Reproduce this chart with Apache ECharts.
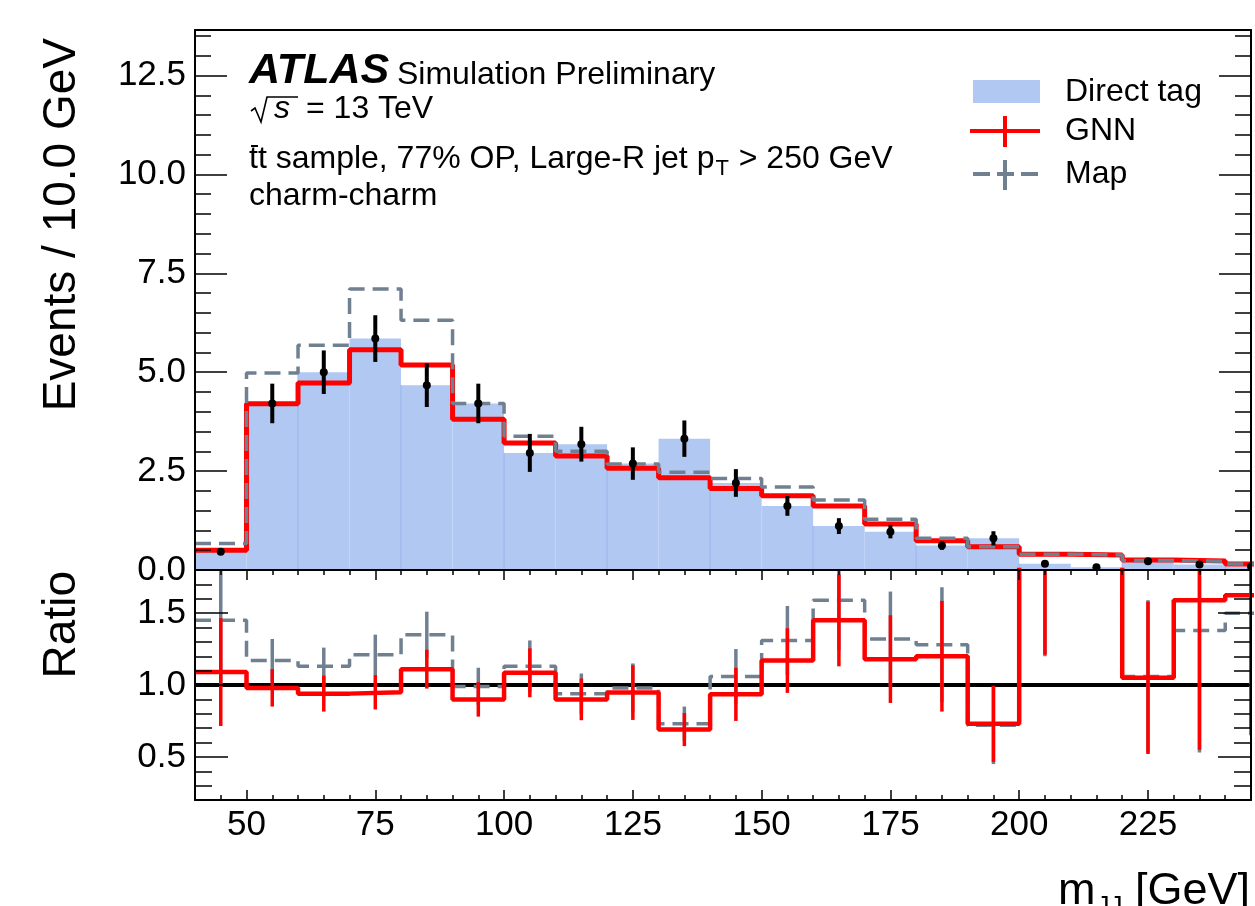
<!DOCTYPE html>
<html><head><meta charset="utf-8">
<script src="https://cdn.jsdelivr.net/npm/echarts@6/dist/echarts.min.js"></script>
<style>html,body{margin:0;padding:0;background:#fff}#c{width:1255px;height:906px}</style>
</head><body><div id="c"></div>
<script>
// ---------------- data ----------------
const binLow = [40,50,60,70,80,90,100,110,120,130,140,150,160,170,180,190,200,210,220,230,240];
const binWidth = 10;
const directTag = [0.46,4.21,5.00,5.85,4.67,4.21,2.96,3.18,2.69,3.32,2.20,1.62,1.11,0.97,0.62,0.80,0.16,0.07,0.22,0.14,0.09];
const directErr = [0.08,0.50,0.55,0.59,0.55,0.50,0.48,0.44,0.41,0.46,0.35,0.25,0.20,0.17,0.11,0.18,0.05,0.03,0.06,0.05,0.04];
const gnn       = [0.50,4.20,4.73,5.57,5.18,3.81,3.21,2.88,2.57,2.33,2.06,1.88,1.62,1.16,0.74,0.59,0.40,0.38,0.25,0.23,0.15];
const mapTag    = [0.67,4.98,5.68,7.10,6.31,4.21,3.38,3.00,2.68,2.47,2.31,2.10,1.77,1.28,0.80,0.59,0.40,0.38,0.24,0.22,0.15];
const gnnRatio    = [1.09,0.98,0.94,0.95,1.11,0.90,1.085,0.90,0.947,0.69,0.935,1.17,1.45,1.18,1.20,0.73,2.6,5.4,1.05,1.59,1.625];
const gnnRatioErr = [0.375,0.13,0.125,0.12,0.135,0.12,0.17,0.145,0.19,0.115,0.185,0.225,0.32,0.305,0.385,0.265,1.39,3.0,0.53,1.04,0.975];
const mapRatio    = [1.45,1.17,1.13,1.21,1.35,0.99,1.13,0.94,0.98,0.73,1.06,1.31,1.59,1.32,1.28,0.72,2.6,5.4,1.06,1.38,1.50];
const mapRatioErr = [0.45,0.15,0.13,0.14,0.16,0.13,0.18,0.14,0.17,0.12,0.19,0.24,0.35,0.33,0.40,0.27,1.4,3.0,0.53,0.85,0.80];

const xMajorTicks = [50,75,100,125,150,175,200,225];
const xMinorTicks = [40,45,50,55,60,65,70,75,80,85,90,95,100,105,110,115,120,125,130,135,140,145,150,155,160,165,170,175,180,185,190,195,200,205,210,215,220,225,230,235,240,245];
const yMajorTicks = [0,2.5,5,7.5,10,12.5];
const yMinorTicks = [0,0.5,1,1.5,2,2.5,3,3.5,4,4.5,5,5.5,6,6.5,7,7.5,8,8.5,9,9.5,10,10.5,11,11.5,12,12.5,13,13.5];
const rMajorTicks = [0.5,1.0,1.5];
const rMinorTicks = [0.2,0.3,0.4,0.5,0.6,0.7,0.8,0.9,1.0,1.1,1.2,1.3,1.4,1.5,1.6,1.7,1.8];

// ---------------- styling ----------------
const FF = "'Liberation Sans', Arial, Helvetica, sans-serif";
const BLUE = '#b0c8f2', RED = '#ff0000', GRAY = '#708090';
const X_MIN = 40, X_MAX = 245, Y_MAX = 13.65, R_MIN = 0.2, R_MAX = 1.8;

function stepData(vals){
  const d = binLow.map((x,i)=>[x, vals[i]]);
  d.push([binLow[binLow.length-1]+binWidth, vals[vals.length-1]]);
  return d;
}
function errData(vals, errs){ return binLow.map((x,i)=>[x+binWidth/2, vals[i], errs[i]]); }
function errRender(color, width, dot){
  return function(params, api){
    const c = api.value(0), v = api.value(1), e = api.value(2);
    const a = api.coord([c, v-e]), b = api.coord([c, v+e]);
    const ch = [{type:'line', shape:{x1:a[0],y1:a[1],x2:b[0],y2:b[1]}, style:{stroke:color, lineWidth:width}}];
    if (dot){ const p = api.coord([c, v]); ch.push({type:'circle', shape:{cx:p[0],cy:p[1],r:dot}, style:{fill:color}}); }
    return {type:'group', children:ch};
  };
}
function axis(o){
  const base = {type:'value', splitLine:{show:false}, axisLine:{show:false, onZero:false, lineStyle:{color:'#000', width:2}},
    axisTick:{show:false}, axisLabel:{show:false}, z:10, silent:true};
  return Object.assign(base, o);
}
function ticks(vals, len){ return {show:true, inside:true, length:len, customValues:vals, lineStyle:{color:'#000', width:1.5}}; }
const lineOn = {show:true, onZero:false, lineStyle:{color:'#000', width:2}};

const xAxes = [
  axis({gridIndex:0, position:'bottom', min:X_MIN, max:X_MAX, axisLine:lineOn}),
  axis({gridIndex:0, position:'top', min:X_MIN, max:X_MAX, axisLine:lineOn}),
  axis({gridIndex:1, position:'bottom', min:X_MIN, max:X_MAX, axisLine:lineOn, axisTick:ticks(xMajorTicks,10),
        axisLabel:{show:true, customValues:xMajorTicks, margin:8, fontSize:35, fontFamily:FF, color:'#000'}}),
  axis({gridIndex:1, position:'bottom', min:X_MIN, max:X_MAX, axisTick:ticks(xMinorTicks,5)}),
  axis({gridIndex:1, position:'top', min:X_MIN, max:X_MAX, axisLine:lineOn, axisTick:ticks(xMajorTicks,10)}),
  axis({gridIndex:1, position:'top', min:X_MIN, max:X_MAX, axisTick:ticks(xMinorTicks,5)})
];
const yAxes = [
  axis({gridIndex:0, position:'left', min:0, max:Y_MAX, axisLine:lineOn, axisTick:ticks(yMajorTicks,32),
        axisLabel:{show:true, customValues:yMajorTicks, margin:9, fontSize:35, fontFamily:FF, color:'#000', formatter:v=>v.toFixed(1)}}),
  axis({gridIndex:0, position:'left', min:0, max:Y_MAX, axisTick:ticks(yMinorTicks,16)}),
  axis({gridIndex:0, position:'right', min:0, max:Y_MAX, axisLine:lineOn, axisTick:ticks(yMajorTicks,32)}),
  axis({gridIndex:0, position:'right', min:0, max:Y_MAX, axisTick:ticks(yMinorTicks,16)}),
  axis({gridIndex:1, position:'left', min:R_MIN, max:R_MAX, axisLine:lineOn, axisTick:ticks(rMajorTicks,33),
        axisLabel:{show:true, customValues:rMajorTicks, margin:9, fontSize:35, fontFamily:FF, color:'#000', formatter:v=>v.toFixed(1)}}),
  axis({gridIndex:1, position:'left', min:R_MIN, max:R_MAX, axisTick:ticks(rMinorTicks,17)}),
  axis({gridIndex:1, position:'right', min:R_MIN, max:R_MAX, axisLine:lineOn, axisTick:ticks(rMajorTicks,33)}),
  axis({gridIndex:1, position:'right', min:R_MIN, max:R_MAX, axisTick:ticks(rMinorTicks,17)})
];

const series = [
  { type:'custom', name:'Direct tag', xAxisIndex:0, yAxisIndex:0, clip:true, z:1, silent:true,
    data: binLow.map((x,i)=>[x, x+binWidth, directTag[i]]), encode:{x:[0,1], y:2},
    renderItem: function(params, api){
      const lo = api.value(0), hi = api.value(1), v = api.value(2);
      const p0 = api.coord([lo,0]), p1 = api.coord([hi,v]);
      const ch = [{type:'rect', shape:{x:p0[0], y:p1[1], width:p1[0]-p0[0], height:p0[1]-p1[1]}, style:{fill:BLUE}}];
      if (lo % 20 === 0 && lo > X_MIN) ch.push({type:'line', shape:{x1:p0[0],y1:p0[1],x2:p0[0],y2:p1[1]}, style:{stroke:'#97b4ec', lineWidth:1}});
      return {type:'group', children:ch};
    } },
  { type:'line', name:'GNN', xAxisIndex:0, yAxisIndex:0, step:'end', data:stepData(gnn), showSymbol:false, z:3, silent:true,
    lineStyle:{color:RED, width:5, cap:'butt'} },
  { type:'line', name:'Map', xAxisIndex:0, yAxisIndex:0, step:'end', data:stepData(mapTag), showSymbol:false, z:4, silent:true,
    lineStyle:{color:GRAY, width:3.5, type:[16,8], cap:'butt'} },
  { type:'custom', name:'DirectPts', xAxisIndex:0, yAxisIndex:0, clip:true, z:5, silent:true,
    data: errData(directTag, directErr), encode:{x:0, y:1}, renderItem: errRender('#000', 4, 4) },
  // ratio panel
  { type:'line', name:'one', xAxisIndex:2, yAxisIndex:4, data:[[X_MIN,1],[X_MAX,1]], showSymbol:false, z:1, silent:true,
    lineStyle:{color:'#000', width:4} },
  { type:'line', name:'MapR', xAxisIndex:2, yAxisIndex:4, step:'end', data:stepData(mapRatio), showSymbol:false, z:2, silent:true,
    lineStyle:{color:GRAY, width:3.5, type:[16,8], cap:'butt'} },
  { type:'custom', name:'MapRErr', xAxisIndex:2, yAxisIndex:4, clip:true, z:2, silent:true,
    data: errData(mapRatio, mapRatioErr), encode:{x:0, y:1}, renderItem: errRender(GRAY, 3.5, 0) },
  { type:'line', name:'GNNR', xAxisIndex:2, yAxisIndex:4, step:'end', data:stepData(gnnRatio), showSymbol:false, z:3, silent:true,
    lineStyle:{color:RED, width:4.5, cap:'butt'} },
  { type:'custom', name:'GNNRErr', xAxisIndex:2, yAxisIndex:4, clip:true, z:3, silent:true,
    data: errData(gnnRatio, gnnRatioErr), encode:{x:0, y:1}, renderItem: errRender(RED, 3.5, 0) }
];

// ---------------- text layout helpers ----------------
const mctx = document.createElement('canvas').getContext('2d');
function tw(t, font){ mctx.font = font; return mctx.measureText(t).width; }
function txt(t, x, y, size, opts){
  opts = opts || {};
  const font = (opts.style || '') + ' ' + size + 'px ' + FF;
  return {type:'text', x:x, y:y, rotation:opts.rot || 0, z:100, silent:true,
    style:{text:t, font:font, fill:opts.fill || '#000', align:opts.align || 'left', verticalAlign:'middle',
           textAlign:opts.align || 'left', textVerticalAlign:'middle'}};
}
const g = [];
// ATLAS label
g.push(txt('ATLAS', 249, 71, 43, {style:'italic bold'}));
g.push(txt('Simulation Preliminary', 397, 75.5, 32));
// sqrt(s) = 13 TeV
g.push({type:'polyline', z:100, silent:true, shape:{points:[[251,111],[255,108],[261,122],[267,97],[298,97]]}, style:{stroke:'#000', lineWidth:1.6, fill:null}});
g.push(txt('s', 274, 109.5, 32, {style:'italic'}));
g.push(txt('= 13 TeV', 306, 109.5, 32));
// line 3
const f32 = '32px ' + FF, f22 = '22px ' + FF;
const l3a = 'tt sample, 77% OP, Large-R jet p';
const l3x = 249, w3a = tw(l3a, f32);
g.push(txt(l3a, l3x, 159.5, 32));
g.push({type:'line', z:100, silent:true, shape:{x1:l3x+2, y1:146, x2:l3x+9, y2:146}, style:{stroke:'#000', lineWidth:2}});
g.push(txt('T', l3x + w3a + 1, 169, 22));
g.push(txt(' > 250 GeV', l3x + w3a + 2 + tw('T', f22), 159.5, 32));
// line 4
g.push(txt('charm-charm', 249, 196.5, 32));
// legend
g.push({type:'rect', z:100, silent:true, shape:{x:973, y:80, width:67, height:23}, style:{fill:BLUE}});
g.push(txt('Direct tag', 1065, 92, 32));
g.push({type:'line', z:100, silent:true, shape:{x1:970, y1:131, x2:1040, y2:131}, style:{stroke:RED, lineWidth:4}});
g.push({type:'line', z:100, silent:true, shape:{x1:1005, y1:116, x2:1005, y2:147}, style:{stroke:RED, lineWidth:4}});
g.push(txt('GNN', 1065, 131, 32));
g.push({type:'line', z:100, silent:true, shape:{x1:973, y1:174, x2:1039, y2:174}, style:{stroke:GRAY, lineWidth:4, lineDash:[17,7]}});
g.push({type:'line', z:100, silent:true, shape:{x1:1005, y1:160, x2:1005, y2:190}, style:{stroke:GRAY, lineWidth:4}});
g.push(txt('Map', 1065, 174, 32));
// axis titles
g.push(txt('Events / 10.0 GeV', 62, 38, 46, {align:'right', rot:Math.PI/2}));
g.push(txt('Ratio', 62, 571, 46, {align:'right', rot:Math.PI/2}));
const f45 = '45px ' + FF;
const gevW = tw('[GeV]', f45);
g.push(txt('[GeV]', 1250, 892, 45, {align:'right'}));
const jjRight = 1250 - gevW - tw(' ', f45);
g.push(txt('JJ', jjRight, 907, 26, {align:'right'}));
g.push(txt('m', jjRight - tw('JJ', '26px ' + FF) - 1, 892, 45, {align:'right'}));

const chart = echarts.init(document.getElementById('c'), null, {renderer:'canvas'});
chart.setOption({
  animation:false,
  backgroundColor:'#fff',
  grid:[{left:195, right:4, top:30, height:540}, {left:195, right:4, top:570, height:230}],
  xAxis:xAxes, yAxis:yAxes, series:series,
  graphic:{elements:g}
});
</script></body></html>
